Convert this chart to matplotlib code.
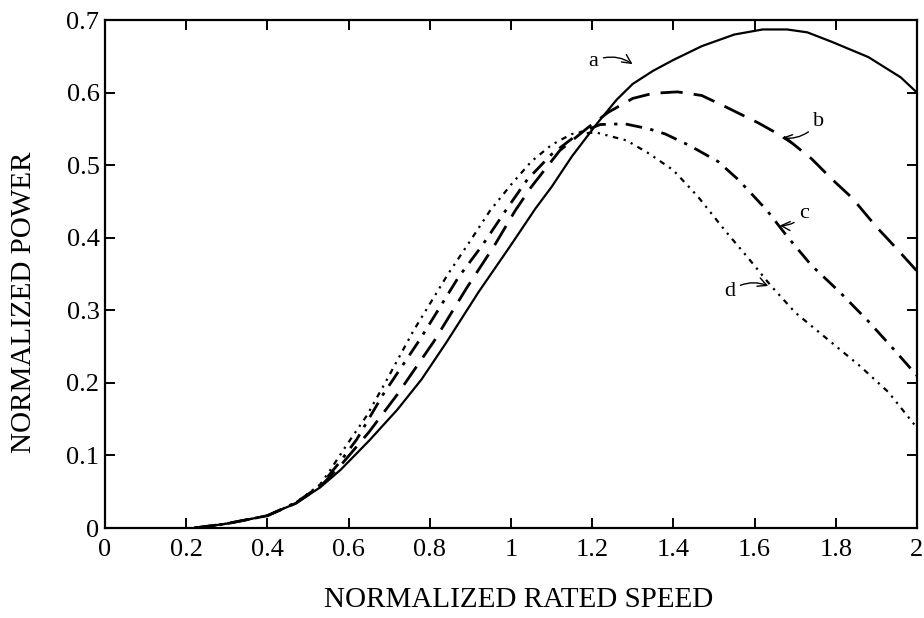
import numpy as np
import matplotlib.pyplot as plt
from matplotlib.ticker import FuncFormatter

plt.rcParams['font.family'] = ['Liberation Serif', 'DejaVu Serif']

# power curves vs. normalized rated speed
a_x = [0.22, 0.30, 0.40, 0.47, 0.53, 0.58, 0.65, 0.72, 0.78, 0.84, 0.92, 1.00, 1.06, 1.10, 1.15,
       1.21, 1.26, 1.30, 1.35, 1.40, 1.47, 1.55, 1.62, 1.68, 1.73, 1.79, 1.88, 1.96, 2.00]
a_y = [0.0, 0.006, 0.017, 0.034, 0.056, 0.08, 0.12, 0.163, 0.205, 0.255, 0.325, 0.39, 0.44, 0.47, 0.512,
       0.556, 0.59, 0.612, 0.63, 0.645, 0.664, 0.68, 0.687, 0.687, 0.683, 0.67, 0.649, 0.621, 0.60]

b_x = [0.22, 0.30, 0.40, 0.47, 0.53, 0.58, 0.65, 0.72, 0.81, 0.89, 0.96, 1.01, 1.05, 1.12, 1.19,
       1.24, 1.30, 1.35, 1.41, 1.47, 1.53, 1.61, 1.68, 1.74, 1.79, 1.84, 1.90, 1.95, 2.00]
b_y = [0.0, 0.006, 0.017, 0.034, 0.057, 0.086, 0.132, 0.184, 0.257, 0.33, 0.39, 0.437, 0.47, 0.52, 0.552,
       0.573, 0.592, 0.599, 0.601, 0.596, 0.58, 0.558, 0.536, 0.509, 0.481, 0.455, 0.415, 0.385, 0.354]

c_x = [0.22, 0.30, 0.40, 0.47, 0.53, 0.58, 0.62, 0.685, 0.776, 0.87, 0.93, 0.99, 1.04, 1.10, 1.17,
       1.22, 1.28, 1.34, 1.38, 1.44, 1.51, 1.56, 1.63, 1.68, 1.74, 1.81, 1.88, 1.94, 2.00]
c_y = [0.0, 0.006, 0.017, 0.035, 0.058, 0.092, 0.122, 0.184, 0.26, 0.345, 0.39, 0.44, 0.48, 0.515, 0.545,
       0.556, 0.557, 0.55, 0.543, 0.527, 0.505, 0.48, 0.438, 0.402, 0.362, 0.325, 0.285, 0.248, 0.21]

d_x = [0.22, 0.30, 0.40, 0.47, 0.53, 0.555, 0.596, 0.645, 0.69, 0.76, 0.845, 0.90, 0.948, 1.00, 1.05,
       1.10, 1.15, 1.21, 1.285, 1.34, 1.40, 1.46, 1.53, 1.58, 1.64, 1.70, 1.78, 1.86, 1.93, 2.00]
d_y = [0.0, 0.006, 0.017, 0.035, 0.06, 0.08, 0.115, 0.155, 0.2, 0.272, 0.35, 0.396, 0.437, 0.473, 0.505,
       0.528, 0.543, 0.545, 0.534, 0.516, 0.493, 0.457, 0.408, 0.375, 0.334, 0.297, 0.26, 0.223, 0.187, 0.138]

x_ticks = [0, 0.2, 0.4, 0.6, 0.8, 1.0, 1.2, 1.4, 1.6, 1.8, 2.0]
y_ticks = [0, 0.1, 0.2, 0.3, 0.4, 0.5, 0.6, 0.7]

fig = plt.figure(figsize=(9.24, 6.18), dpi=100)
ax = fig.add_axes([0.1136, 0.1456, 0.8788, 0.822])

ax.plot(a_x, a_y, color='black', lw=1.6, ls='-')
ax.plot(b_x, b_y, color='black', lw=2.0, ls=(0, (8, 4)))
ax.plot(c_x, c_y, color='black', lw=2.0, ls=(0, (6, 3, 1.2, 3)))
ax.plot(d_x, d_y, color='black', lw=1.6, ls=(0, (2.5, 2.5, 1, 2.5, 1, 2.5)))

ax.set_xlim(0, 2)
ax.set_ylim(0, 0.7)
ax.set_xticks(x_ticks)
ax.set_yticks(y_ticks)
ax.xaxis.set_major_formatter(FuncFormatter(lambda v, p: '%g' % v))
ax.yaxis.set_major_formatter(FuncFormatter(lambda v, p: '%g' % v))
ax.tick_params(direction='in', length=7, width=1.4, top=True, right=True, labelsize=19)
ax.tick_params(axis='x', pad=8)
ax.tick_params(axis='y', pad=4)
for s in ax.spines.values():
    s.set_linewidth(1.6)

ax.set_xlabel('NORMALIZED RATED SPEED', fontsize=21)
ax.set_ylabel('NORMALIZED POWER', fontsize=21)
ax.xaxis.set_label_coords(0.509, -0.116)
ax.yaxis.set_label_coords(-0.084, 0.445)

# hand-drawn curve labels
arrow = dict(arrowstyle='->', color='black', lw=1.0, connectionstyle='arc3,rad=-0.3')
ax.annotate('a', xy=(1.305, 0.637), xytext=(1.19, 0.643), fontsize=16,
            arrowprops=arrow, va='center')
ax.annotate('b', xy=(1.66, 0.538), xytext=(1.745, 0.56), fontsize=16,
            arrowprops=arrow, va='center')
ax.annotate('c', xy=(1.655, 0.417), xytext=(1.71, 0.434), fontsize=16,
            arrowprops=arrow, va='center')
ax.annotate('d', xy=(1.64, 0.332), xytext=(1.525, 0.326), fontsize=16,
            arrowprops=arrow, va='center')

fig.savefig('out.png', dpi=100)
